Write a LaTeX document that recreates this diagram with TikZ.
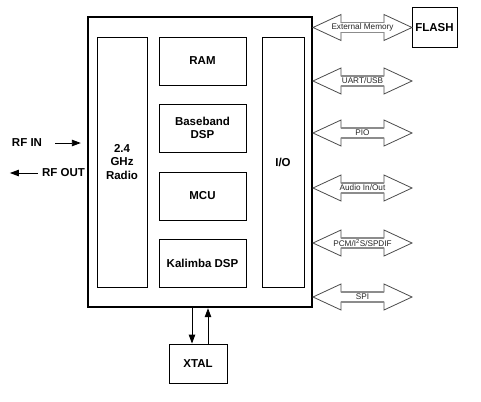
\documentclass[tikz,border=0pt]{standalone}
\usepackage{fontspec}
\setmainfont{Liberation Sans}
\usetikzlibrary{arrows.meta,calc}
\begin{document}
\begin{tikzpicture}[x=1pt,y=-1pt]
            \tikzset{
                blk/.style={draw, line width=0.9pt, inner sep=0pt, align=center,
                    font=\bfseries\fontsize{11.5}{13.5}\selectfont},
                txt/.style={inner sep=0pt, font=\bfseries\fontsize{11.5}{13.5}\selectfont},
                sig/.style={inner sep=0pt, text=black!85, font=\fontsize{8.2}{9}\selectfont},
                bus/.style={draw=black!70, line width=0.8pt, fill=white, line join=miter},
                shaft/.style={draw=black!45, line width=1.2pt},
                tip/.style={-{Triangle[length=9pt,width=6.5pt]}, line width=0.9pt},}
            \useasboundingbox (0,0) rectangle (481,401);
            % chip and its blocks
            \node[blk, line width=2.4pt, minimum width=224, minimum height=290] (chip) at (200,162) {};
            \node[blk, minimum width=50, minimum height=250] (radio) at (122,162) {2.4\\GHz\\Radio};
            \node[blk, minimum width=87, minimum height=48] (ram) at (202.5,61) {RAM};
            \node[blk, minimum width=87, minimum height=48] (bb) at (202.5,128) {Baseband\\DSP};
            \node[blk, minimum width=87, minimum height=48] (mcu) at (202.5,196) {MCU};
            \node[blk, minimum width=87, minimum height=48] (kal) at (202.5,263) {Kalimba DSP};
            \node[blk, minimum width=42, minimum height=250] (io) at (283,162) {I/O};
            \node[blk, minimum width=45, minimum height=40] (flash) at (434.5,27.5) {FLASH};
            \node[blk, minimum width=58, minimum height=39] (xtal) at (198,363.5) {XTAL};
            % radio side
            \node[txt] (rfin) at (27,143) {RF IN};
            \node[txt] (rfout) at (63.5,173) {RF OUT};
            \draw[tip] ([xshift=13]rfin.east) -- ($(chip.west |- rfin.east)+(-6,0)$);
            \draw[tip] ([xshift=-4]rfout.west) -- ([xshift=-32]rfout.west);
            % crystal
            \draw[tip] ($(xtal.north |- chip.south)+(-6,0)$) -- ($(xtal.north)+(-6,0)$);
            \draw[tip] ($(xtal.north)+(10,0)$) -- ($(xtal.north |- chip.south)+(10,0)$);
            % interfaces
            \foreach \y/\lab [count=\i] in {27.5/External Memory, 81/{UART/USB}, 133/PIO,
                188/{Audio In/Out}, 243/{PCM/I\textsuperscript{2}S/SPDIF}, 297/SPI}{
                \draw[bus] (313,\y) -- (341,\y-13) -- (341,\y-5) -- (384,\y-5) -- (384,\y-13)
                    -- (412,\y) -- (384,\y+13) -- (384,\y+5) -- (341,\y+5) -- (341,\y+13) -- cycle;
                \draw[shaft] (341,\y-5) -- (384,\y-5) (341,\y+5) -- (384,\y+5);
                \node[sig] (sig\i) at (362.5,\y) {\lab};
            }
        \end{tikzpicture}
\end{document}
